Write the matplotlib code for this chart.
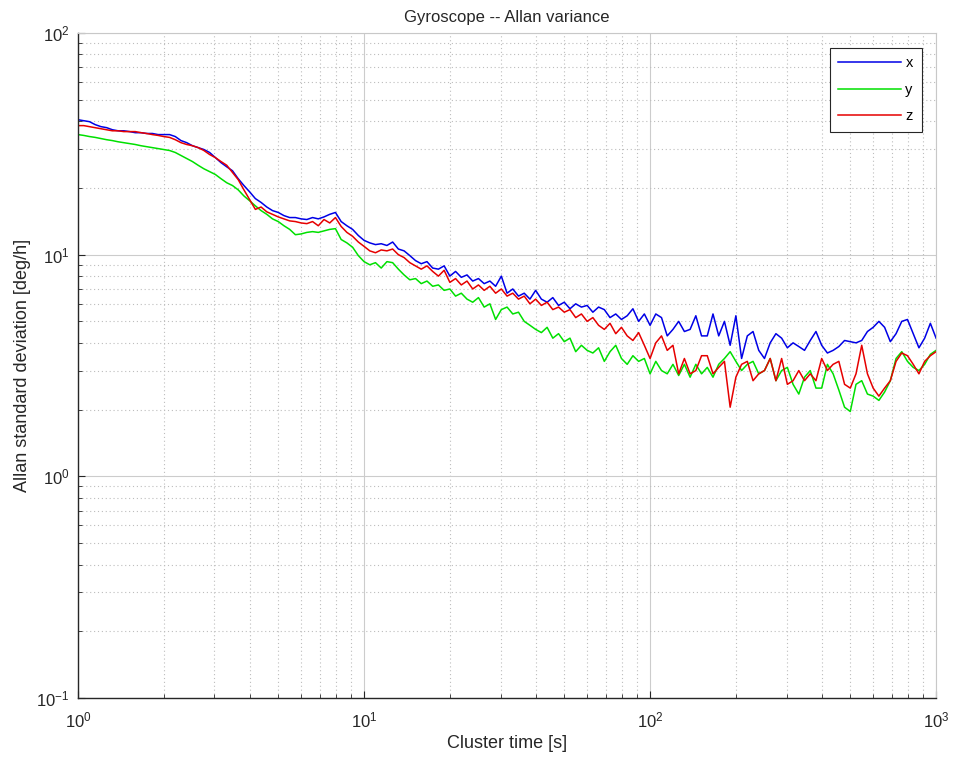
import numpy as np
import matplotlib
matplotlib.use("Agg")
import matplotlib.pyplot as plt

plt.rcParams['font.family'] = ['Liberation Sans', 'DejaVu Sans']
plt.rcParams['mathtext.default'] = 'regular'

# cluster time grid, 50 points per decade from 1 s to 1000 s
tau = np.logspace(0, 3, 151)

# Allan standard deviation [deg/h]
adev_x = [40.6, 40.2, 39.8, 38.6, 37.8, 37.4, 36.6, 36.2, 36.2, 35.9,
          35.5, 35.5, 35.2, 35.2, 34.8, 34.8, 34.8, 34.1, 32.7, 32.0,
          31.0, 30.4, 29.8, 28.9, 27.4, 26.0, 24.9, 23.9, 22.0, 20.5,
          19.2, 17.9, 17.2, 16.4, 15.8, 15.5, 15.0, 14.7, 14.7, 14.5,
          14.4, 14.7, 14.5, 14.8, 15.2, 15.5, 14.1, 13.5, 13.0, 12.2,
          11.6, 11.3, 11.1, 11.2, 11.0, 11.4, 10.6, 10.4, 9.9, 9.4,
          9.1, 9.3, 8.7, 8.6, 8.9, 8.0, 8.4, 7.9, 8.1, 7.6,
          7.8, 7.4, 7.6, 7.2, 8.0, 6.7, 7.0, 6.5, 6.7, 6.3,
          6.9, 6.3, 6.1, 6.4, 5.9, 6.1, 5.7, 6.0, 5.8, 5.9,
          5.5, 5.8, 5.65, 5.2, 5.4, 5.1, 5.3, 5.7, 5.0, 5.4,
          4.8, 5.4, 5.2, 4.3, 4.6, 5.0, 4.5, 4.6, 5.3, 4.3,
          4.3, 5.4, 4.3, 5.0, 3.9, 5.3, 3.4, 4.3, 4.5, 3.7,
          3.4, 4.0, 4.4, 4.2, 3.8, 4.0, 3.85, 3.7, 4.1, 4.5,
          3.9, 3.6, 3.7, 3.85, 4.1, 4.05, 4.0, 4.1, 4.5, 4.7,
          5.0, 4.7, 4.05, 4.4, 5.0, 5.1, 4.4, 3.8, 4.2, 4.9,
          4.2]

adev_y = [34.8, 34.5, 34.1, 33.8, 33.4, 33.0, 32.7, 32.3, 32.0, 31.7,
          31.4, 31.0, 30.7, 30.4, 30.1, 29.8, 29.5, 28.9, 28.0, 27.1,
          26.3, 25.3, 24.4, 23.7, 23.0, 22.0, 21.1, 20.5, 19.6, 18.4,
          17.5, 16.6, 15.8, 15.2, 14.5, 14.1, 13.5, 13.0, 12.3, 12.4,
          12.6, 12.7, 12.6, 12.8, 13.0, 13.1, 11.7, 11.3, 10.8, 9.9,
          9.3, 9.0, 9.2, 8.7, 9.3, 9.2, 8.6, 8.1, 7.7, 7.8,
          7.4, 7.6, 7.2, 7.3, 6.9, 7.0, 6.5, 6.7, 6.3, 6.1,
          6.4, 5.8, 6.0, 5.1, 5.65, 5.8, 5.4, 5.5, 5.0, 4.8,
          4.6, 4.45, 4.7, 4.2, 4.4, 4.05, 4.2, 3.65, 3.9, 3.7,
          3.6, 3.8, 3.3, 3.65, 3.9, 3.4, 3.2, 3.5, 3.3, 3.4,
          2.9, 3.3, 3.0, 2.9, 3.2, 2.85, 3.2, 2.8, 3.2, 2.9,
          3.1, 2.8, 3.2, 3.4, 3.65, 3.3, 3.0, 3.2, 3.3, 2.9,
          3.0, 3.4, 2.7, 3.0, 3.1, 2.6, 2.35, 2.8, 3.0, 2.5,
          2.5, 3.2, 2.9, 2.45, 2.05, 1.96, 2.6, 2.7, 2.35, 2.3,
          2.2, 2.4, 2.7, 3.4, 3.65, 3.3, 3.1, 3.0, 3.2, 3.55,
          3.7]

adev_z = [38.2, 38.2, 37.8, 37.4, 37.0, 36.6, 36.2, 36.2, 35.9, 35.9,
          35.9, 35.5, 35.2, 34.8, 34.5, 34.1, 33.8, 33.0, 32.0, 31.4,
          31.0, 30.4, 29.5, 28.3, 27.4, 26.3, 25.3, 23.5, 21.8, 19.6,
          17.7, 16.0, 16.4, 15.6, 15.2, 14.8, 14.5, 14.2, 14.1, 13.9,
          13.8, 14.1, 13.5, 14.4, 13.9, 14.7, 13.4, 12.6, 12.1, 11.4,
          10.9, 10.4, 10.2, 10.5, 10.4, 10.6, 10.0, 9.7, 9.2, 8.9,
          8.6, 8.9, 8.4, 8.0, 8.5, 7.5, 7.8, 7.3, 7.6, 7.0,
          7.3, 6.9, 7.2, 6.7, 7.0, 6.5, 6.7, 6.3, 6.5, 6.0,
          6.3, 5.9, 6.1, 5.65, 5.8, 5.5, 5.65, 5.2, 5.4, 5.0,
          5.2, 4.8, 4.6, 4.9, 4.4, 4.7, 4.3, 4.1, 4.45, 3.9,
          3.4, 4.0, 4.3, 3.7, 3.9, 2.9, 3.4, 2.9, 3.0, 3.5,
          3.5, 2.9, 3.1, 3.3, 2.05, 2.8, 3.2, 3.3, 2.7, 2.9,
          3.0, 3.4, 2.7, 3.4, 2.6, 2.7, 3.0, 2.7, 2.9, 2.7,
          3.4, 3.0, 3.2, 3.3, 2.6, 2.5, 2.9, 3.9, 2.9, 2.5,
          2.3, 2.5, 2.7, 3.3, 3.6, 3.5, 3.2, 2.9, 3.3, 3.5,
          3.65]

fig = plt.figure(figsize=(9.55, 7.65), dpi=100)
ax = fig.add_axes([0.0817, 0.0876, 0.8985, 0.8693])

ax.loglog(tau, adev_x, color='#0000e6', lw=1.1, label='x')
ax.loglog(tau, adev_y, color='#00e000', lw=1.1, label='y')
ax.loglog(tau, adev_z, color='#e60000', lw=1.1, label='z')

ax.set_xlim(1, 1000)
ax.set_ylim(0.1, 100)

ax.grid(True, which='major', color='#cccccc', ls='-', lw=0.8)
ax.grid(True, which='minor', color='#bdbdbd', ls=(0, (1, 2.5)), lw=0.8)
ax.set_axisbelow(True)

ax.tick_params(which='both', direction='in', top=False, right=False,
               labelsize=12, colors='#262626')
ax.tick_params(which='major', length=5)
ax.tick_params(which='minor', length=3)
ax.tick_params(axis='x', pad=9)
ax.tick_params(axis='y', pad=6)
for s in ['left', 'bottom']:
    ax.spines[s].set_color('#262626')
    ax.spines[s].set_linewidth(1.0)
for s in ['top', 'right']:
    ax.spines[s].set_color('#c8c8c8')
    ax.spines[s].set_linewidth(0.8)

ax.set_title('Gyroscope -- Allan variance', fontsize=12, color='#262626', pad=8)
ax.set_xlabel('Cluster time [s]', fontsize=13, color='#262626', labelpad=3)
ax.set_ylabel('Allan standard deviation [deg/h]', fontsize=13, color='#262626')

leg = ax.legend(loc='upper right', fontsize=10.5, fancybox=False, framealpha=1,
                edgecolor='#262626', handlelength=4.3, borderaxespad=1.0,
                labelspacing=0.85, handletextpad=0.3, borderpad=0.6)
leg.get_frame().set_linewidth(0.8)

fig.savefig('out.png', dpi=100, facecolor='white')
